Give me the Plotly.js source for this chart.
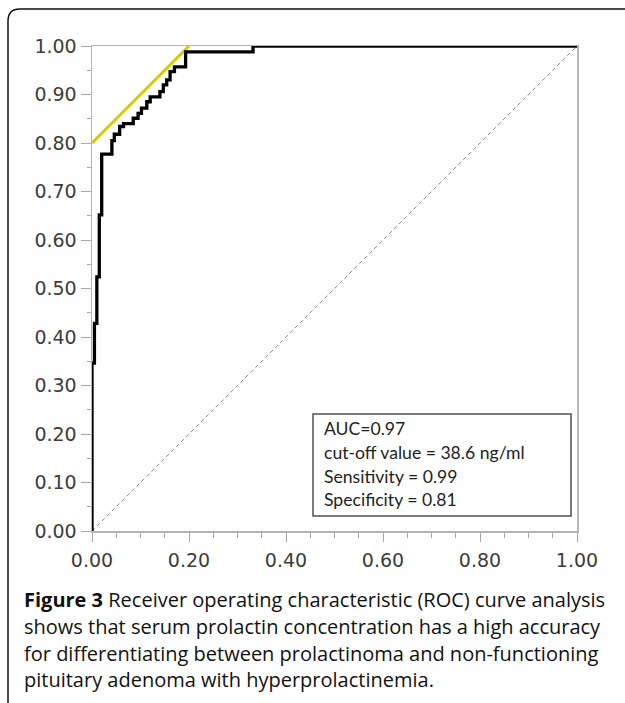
<!DOCTYPE html>
<html>
<head>
<meta charset="utf-8">
<script src="https://cdn.plot.ly/plotly-3.0.1.min.js"></script>
<style>html,body{margin:0;padding:0;background:#fff;}</style>
</head>
<body>
<div id="chart" style="width:625px;height:703px;"></div>
<script>
// ROC curve corner points (false positive rate, true positive rate), drawn as steps
const fpr = [0, 0, 0.005, 0.010, 0.015, 0.020, 0.041, 0.046, 0.057, 0.065, 0.085, 0.095, 0.102, 0.113, 0.120, 0.140, 0.147, 0.154, 0.161, 0.170, 0.193, 0.332, 1.0];
const tpr = [0, 0.346, 0.428, 0.524, 0.652, 0.777, 0.805, 0.818, 0.834, 0.840, 0.851, 0.861, 0.872, 0.885, 0.895, 0.906, 0.920, 0.930, 0.947, 0.957, 0.988, 1.0, 1.0];
// tangent line at the cut-off (yellow)
const cutX = [0, 0.2];
const cutY = [0.8, 1.0];
// chance diagonal
const diagX = [0, 1];
const diagY = [0, 1];
// axis ticks
const yTicks = [0, 0.1, 0.2, 0.3, 0.4, 0.5, 0.6, 0.7, 0.8, 0.9, 1.0];
const yTickLabels = ["0.00","0.10","0.20","0.30","0.40","0.50","0.60","0.70","0.80","0.90","1.00"];
const xTicks = [0, 0.2, 0.4, 0.6, 0.8, 1.0];
const xTickLabels = ["0.00","0.20","0.40","0.60","0.80","1.00"];
// statistics box text
const statLines = ["AUC=0.97", "cut-off value = 38.6 ng/ml", "Sensitivity = 0.99", "Specificity = 0.81"];
// figure caption
const captionLines = [
  "<b>Figure 3</b> Receiver operating characteristic (ROC) curve analysis",
  "shows that serum prolactin concentration has a high accuracy",
  "for differentiating between prolactinoma and non-functioning",
  "pituitary adenoma with hyperprolactinemia."
];

// layout geometry (pixels)
const W = 625, H = 703, L = 92, R = 48, T = 46, B = 172;
const pw = W - L - R, ph = H - T - B;
const px = x => (x - L) / pw;
const py = y => (H - B - y) / ph;

const traces = [
  {x: diagX, y: diagY, mode: 'lines', line: {color: '#8e8e8e', width: 1, dash: '4px,3px'}, hoverinfo: 'skip'},
  {x: cutX, y: cutY, mode: 'lines', line: {color: '#cdcd00', width: 3}, hoverinfo: 'skip'},
  {x: fpr, y: tpr, mode: 'lines', line: {color: '#000000', width: 3.3, shape: 'hv'}, hoverinfo: 'skip'}
];

const statY = [428, 452, 476, 499];
const capY = [599, 626, 653, 679];
const annotations = [];
statLines.forEach((t, i) => annotations.push({
  xref: 'paper', yref: 'paper', x: px(322), y: py(statY[i]), xanchor: 'left', yanchor: 'middle',
  text: t, showarrow: false, font: {family: 'Lato, "Open Sans", sans-serif', size: 17.6, color: '#1e1e1e'}
}));
captionLines.forEach((t, i) => annotations.push({
  xref: 'paper', yref: 'paper', x: px(22), y: py(capY[i]), xanchor: 'left', yanchor: 'middle',
  text: t, showarrow: false, font: {family: '"Open Sans", sans-serif', size: 20, color: '#111111'}
}));

const r = 12;
const fl = px(8), ft = py(9), fr = px(660), fb = py(740);
const rx = r / pw, ry = r / ph;
const framePath = `M ${fl},${fb} L ${fl},${ft - ry} Q ${fl},${ft} ${fl + rx},${ft} L ${fr},${ft}`;

const layout = {
  width: W, height: H,
  margin: {l: L, r: R, t: T, b: B, pad: 0},
  paper_bgcolor: '#ffffff', plot_bgcolor: '#ffffff',
  showlegend: false,
  xaxis: {
    range: [0, 1], tickvals: xTicks, ticktext: xTickLabels,
    ticks: 'outside', ticklen: 9, tickwidth: 1, tickcolor: '#a8a8a8',
    minor: {dtick: 0.05, ticks: 'outside', ticklen: 5, tickwidth: 1, tickcolor: '#a8a8a8'},
    showline: true, linecolor: '#b4b4b4', linewidth: 1.5, mirror: true,
    showgrid: false, zeroline: false, ticklabelstandoff: 3,
    tickfont: {family: '"DejaVu Sans", Verdana, sans-serif', size: 19, color: '#3c3c3c'}
  },
  yaxis: {
    range: [0, 1], tickvals: yTicks, ticktext: yTickLabels,
    ticks: 'outside', ticklen: 10, tickwidth: 1, tickcolor: '#a8a8a8',
    minor: {dtick: 0.05, ticks: 'outside', ticklen: 4, tickwidth: 1, tickcolor: '#a8a8a8'},
    showline: true, linecolor: '#b4b4b4', linewidth: 1.5, mirror: true,
    showgrid: false, zeroline: false,
    tickfont: {family: '"DejaVu Sans", Verdana, sans-serif', size: 19, color: '#3c3c3c'}
  },
  shapes: [
    {type: 'rect', xref: 'paper', yref: 'paper', x0: px(313), x1: px(571), y0: py(516), y1: py(414),
     line: {color: '#505050', width: 1.5}, fillcolor: 'rgba(255,255,255,0)'},
    {type: 'path', xref: 'paper', yref: 'paper', path: framePath, line: {color: '#111111', width: 1.5}}
  ],
  annotations: annotations
};

Plotly.newPlot('chart', traces, layout, {staticPlot: true, displayModeBar: false});
</script>
</body>
</html>
